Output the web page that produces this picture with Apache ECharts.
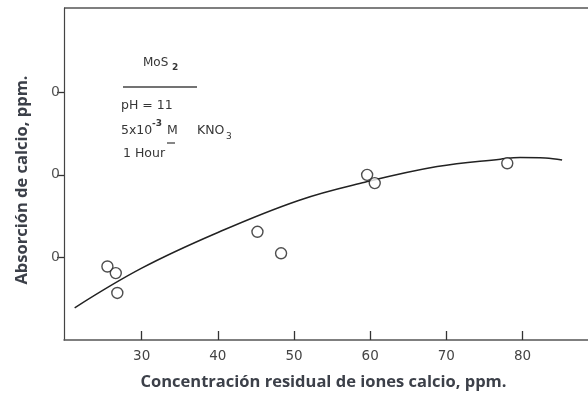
<!DOCTYPE html>
<html><head><meta charset="utf-8">
<script src="https://cdn.jsdelivr.net/npm/echarts@6/dist/echarts.min.js"></script>
<style>html,body{margin:0;padding:0;background:#fff}#c{width:588px;height:397px}</style>
</head><body><div id="c"></div>
<script>
// Data
const pointsX = [25.5, 26.6, 26.8, 45.2, 48.3, 59.6, 60.6, 78.0];
const pointsY = [8.9, 8.1, 5.7, 13.1, 10.5, 20.0, 19.0, 21.4];
const curveX = [21.2, 30.0, 39.7, 50.6, 59.3, 68.8, 77.1, 79.7, 83.0, 85.2];
const curveY = [3.9, 8.7, 12.9, 16.9, 19.1, 21.0, 21.9, 22.1, 22.05, 21.8];
const xTicks = [30, 40, 50, 60, 70, 80];
const yTicks = [10, 20, 30];
const xTitle = 'Concentración residual de iones calcio, ppm.';
const yTitle = 'Absorción de calcio, ppm.';

const chart = echarts.init(document.getElementById('c'));
const ink = '#333';
const titleColor = '#3c4049';
const noteColor = '#363636';
const noteFont = '12.5px DejaVu Sans';
chart.setOption({
  animation: false,
  grid: {left: 64, right: -2, top: 8, bottom: 57},
  xAxis: {
    type: 'value', min: 19.8, max: 88.6,
    position: 'bottom',
    axisLine: {show: true, lineStyle: {color: '#555', width: 1.5}},
    axisTick: {show: true, inside: true, length: 9, customValues: xTicks, lineStyle: {color: ink, width: 1.3}},
    axisLabel: {customValues: xTicks, color: '#444', fontFamily: 'DejaVu Sans', fontSize: 13.5, margin: 9},
    splitLine: {show: false},
    name: xTitle, nameLocation: 'middle', nameGap: 34,
    nameTextStyle: {color: titleColor, fontFamily: 'Open Sans', fontWeight: 'bold', fontSize: 16.5, padding: [0,0,0,-5]}
  },
  yAxis: {
    type: 'value', min: 0, max: 40.2,
    axisLine: {show: true, lineStyle: {color: '#444', width: 1.2}},
    axisTick: {show: true, inside: false, length: 7, customValues: yTicks, lineStyle: {color: ink, width: 1.3}},
    axisLabel: {customValues: yTicks, formatter: v => String(v).slice(-1), color: '#555', fontFamily: 'DejaVu Sans', fontSize: 14, margin: 4},
    splitLine: {show: false},
    name: yTitle, nameLocation: 'middle', nameGap: 33, nameRotate: 90,
    nameTextStyle: {color: titleColor, fontFamily: 'Open Sans', fontWeight: 'bold', fontSize: 16.5, padding: [0,12,0,0]}
  },
  graphic: [
    {type: 'line', shape: {x1: 64, y1: 8, x2: 588, y2: 8}, style: {stroke: '#555', lineWidth: 1.5}},
    {type: 'line', shape: {x1: 123, y1: 87, x2: 197, y2: 87}, style: {stroke: '#444', lineWidth: 1.3}},
    {type: 'text', left: 143, top: 57, style: {text: 'MoS', fill: noteColor, font: '12px DejaVu Sans'}},
    {type: 'text', left: 172, top: 63, style: {text: '2', fill: noteColor, font: 'bold 9px DejaVu Sans'}},
    {type: 'text', left: 121, top: 99, style: {text: 'pH = 11', fill: noteColor, font: noteFont}},
    {type: 'text', left: 121, top: 124, style: {text: '5x10', fill: noteColor, font: noteFont}},
    {type: 'text', left: 152, top: 119, style: {text: '-3', fill: noteColor, font: 'bold 9px DejaVu Sans'}},
    {type: 'text', left: 167, top: 124, style: {text: 'M', fill: noteColor, font: noteFont}},
    {type: 'line', shape: {x1: 167, y1: 143, x2: 175, y2: 143}, style: {stroke: noteColor, lineWidth: 1.2}},
    {type: 'text', left: 197, top: 124, style: {text: 'KNO', fill: noteColor, font: noteFont}},
    {type: 'text', left: 226, top: 132, style: {text: '3', fill: noteColor, font: '9px DejaVu Sans'}},
    {type: 'text', left: 123, top: 147, style: {text: '1 Hour', fill: noteColor, font: noteFont}}
  ],
  series: [
    {type: 'line', data: curveX.map((x, i) => [x, curveY[i]]), smooth: 0.4, symbol: 'none',
     lineStyle: {color: '#222', width: 1.5}},
    {type: 'scatter', data: pointsX.map((x, i) => [x, pointsY[i]]), symbol: 'circle', symbolSize: 11,
     itemStyle: {color: '#fff', borderColor: '#222', borderWidth: 1.4}, z: 5}
  ]
});
</script></body></html>
